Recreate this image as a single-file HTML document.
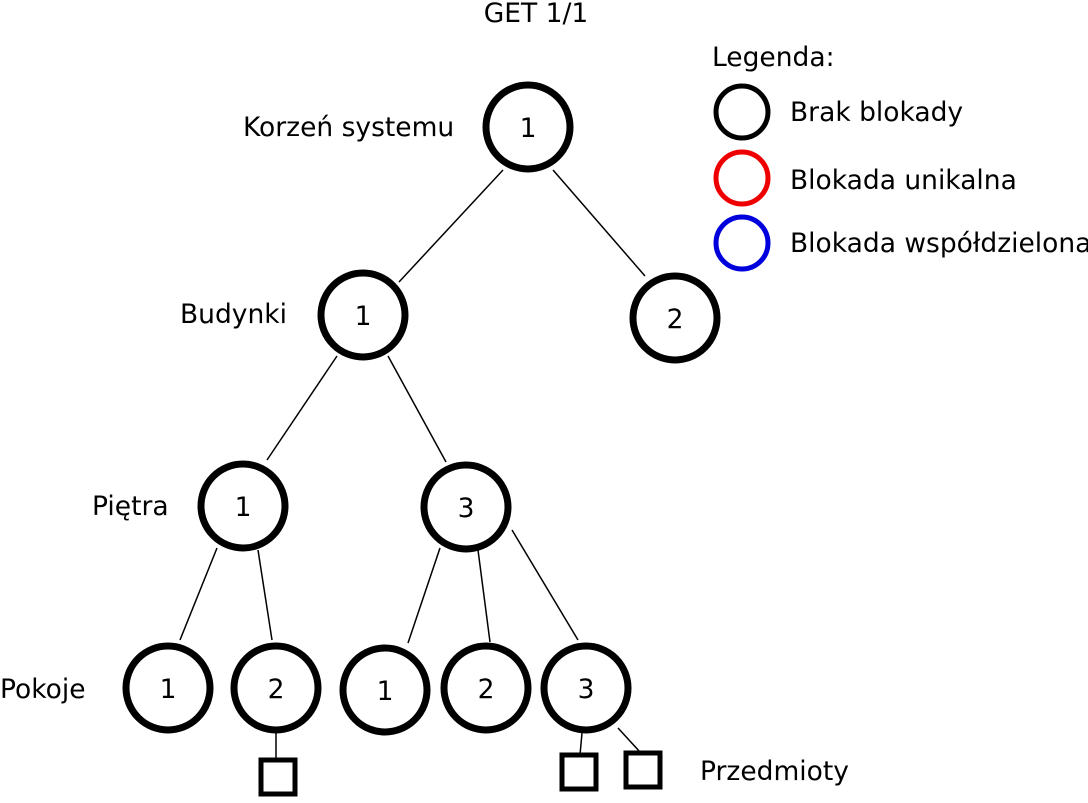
<!DOCTYPE html>
<html><head><meta charset="utf-8"><style>
html,body{margin:0;padding:0;background:#fff;}
svg text{font-family:"DejaVu Sans","Liberation Sans",sans-serif;font-size:26.5px;fill:#000;}
</style></head><body>
<svg width="1088" height="798" viewBox="0 0 1088 798" xmlns="http://www.w3.org/2000/svg">
<g stroke="#000" stroke-width="1.5">
<line x1="503" y1="170" x2="399" y2="282"/>
<line x1="553" y1="170" x2="645" y2="276"/>
<line x1="337" y1="356" x2="267" y2="460"/>
<line x1="388" y1="356" x2="446" y2="462"/>
<line x1="217" y1="548" x2="180" y2="640"/>
<line x1="258" y1="550" x2="272" y2="640"/>
<line x1="440" y1="548" x2="408" y2="643"/>
<line x1="478" y1="550" x2="490" y2="642"/>
<line x1="512" y1="530" x2="578" y2="640"/>
<line x1="276" y1="733" x2="276" y2="760"/>
<line x1="582" y1="733" x2="580" y2="755"/>
<line x1="618" y1="728" x2="640" y2="752"/>
</g>
<g fill="#fff" stroke="#000" stroke-width="7">
<circle cx="528" cy="127" r="42"/>
<circle cx="363" cy="315" r="42"/>
<circle cx="675" cy="318" r="42"/>
<circle cx="243" cy="506" r="42"/>
<circle cx="466" cy="507" r="42"/>
<circle cx="168" cy="688" r="42"/>
<circle cx="276" cy="688" r="42"/>
<circle cx="385" cy="690" r="42"/>
<circle cx="486" cy="688" r="42"/>
<circle cx="586" cy="688" r="42"/>
</g>
<g fill="#fff" stroke="#000" stroke-width="5">
<rect x="261" y="760" width="34" height="34"/>
<rect x="562" y="755" width="34" height="34"/>
<rect x="626" y="753" width="34" height="34"/>
</g>
<g fill="none" stroke-width="5">
<circle cx="742" cy="112" r="26" stroke="#000"/>
<circle cx="742" cy="178" r="26" stroke="#e00"/>
<circle cx="742" cy="243" r="26" stroke="#00d"/>
</g>
<g text-anchor="middle">
<text x="528" y="137">1</text>
<text x="363" y="325">1</text>
<text x="675" y="328">2</text>
<text x="243" y="516">1</text>
<text x="466" y="517">3</text>
<text x="168" y="698">1</text>
<text x="276" y="698">2</text>
<text x="385" y="700">1</text>
<text x="486" y="698">2</text>
<text x="586" y="698">3</text>
<text x="536" y="22">GET 1/1</text>
</g>
<text x="243" y="136">Korzeń systemu</text>
<text x="180" y="323">Budynki</text>
<text x="92" y="515">Piętra</text>
<text x="0" y="698">Pokoje</text>
<text x="700" y="780">Przedmioty</text>
<text x="712" y="66">Legenda:</text>
<text x="790" y="121">Brak blokady</text>
<text x="790" y="189">Blokada unikalna</text>
<text x="790" y="252">Blokada współdzielona</text>
</svg>
</body></html>
